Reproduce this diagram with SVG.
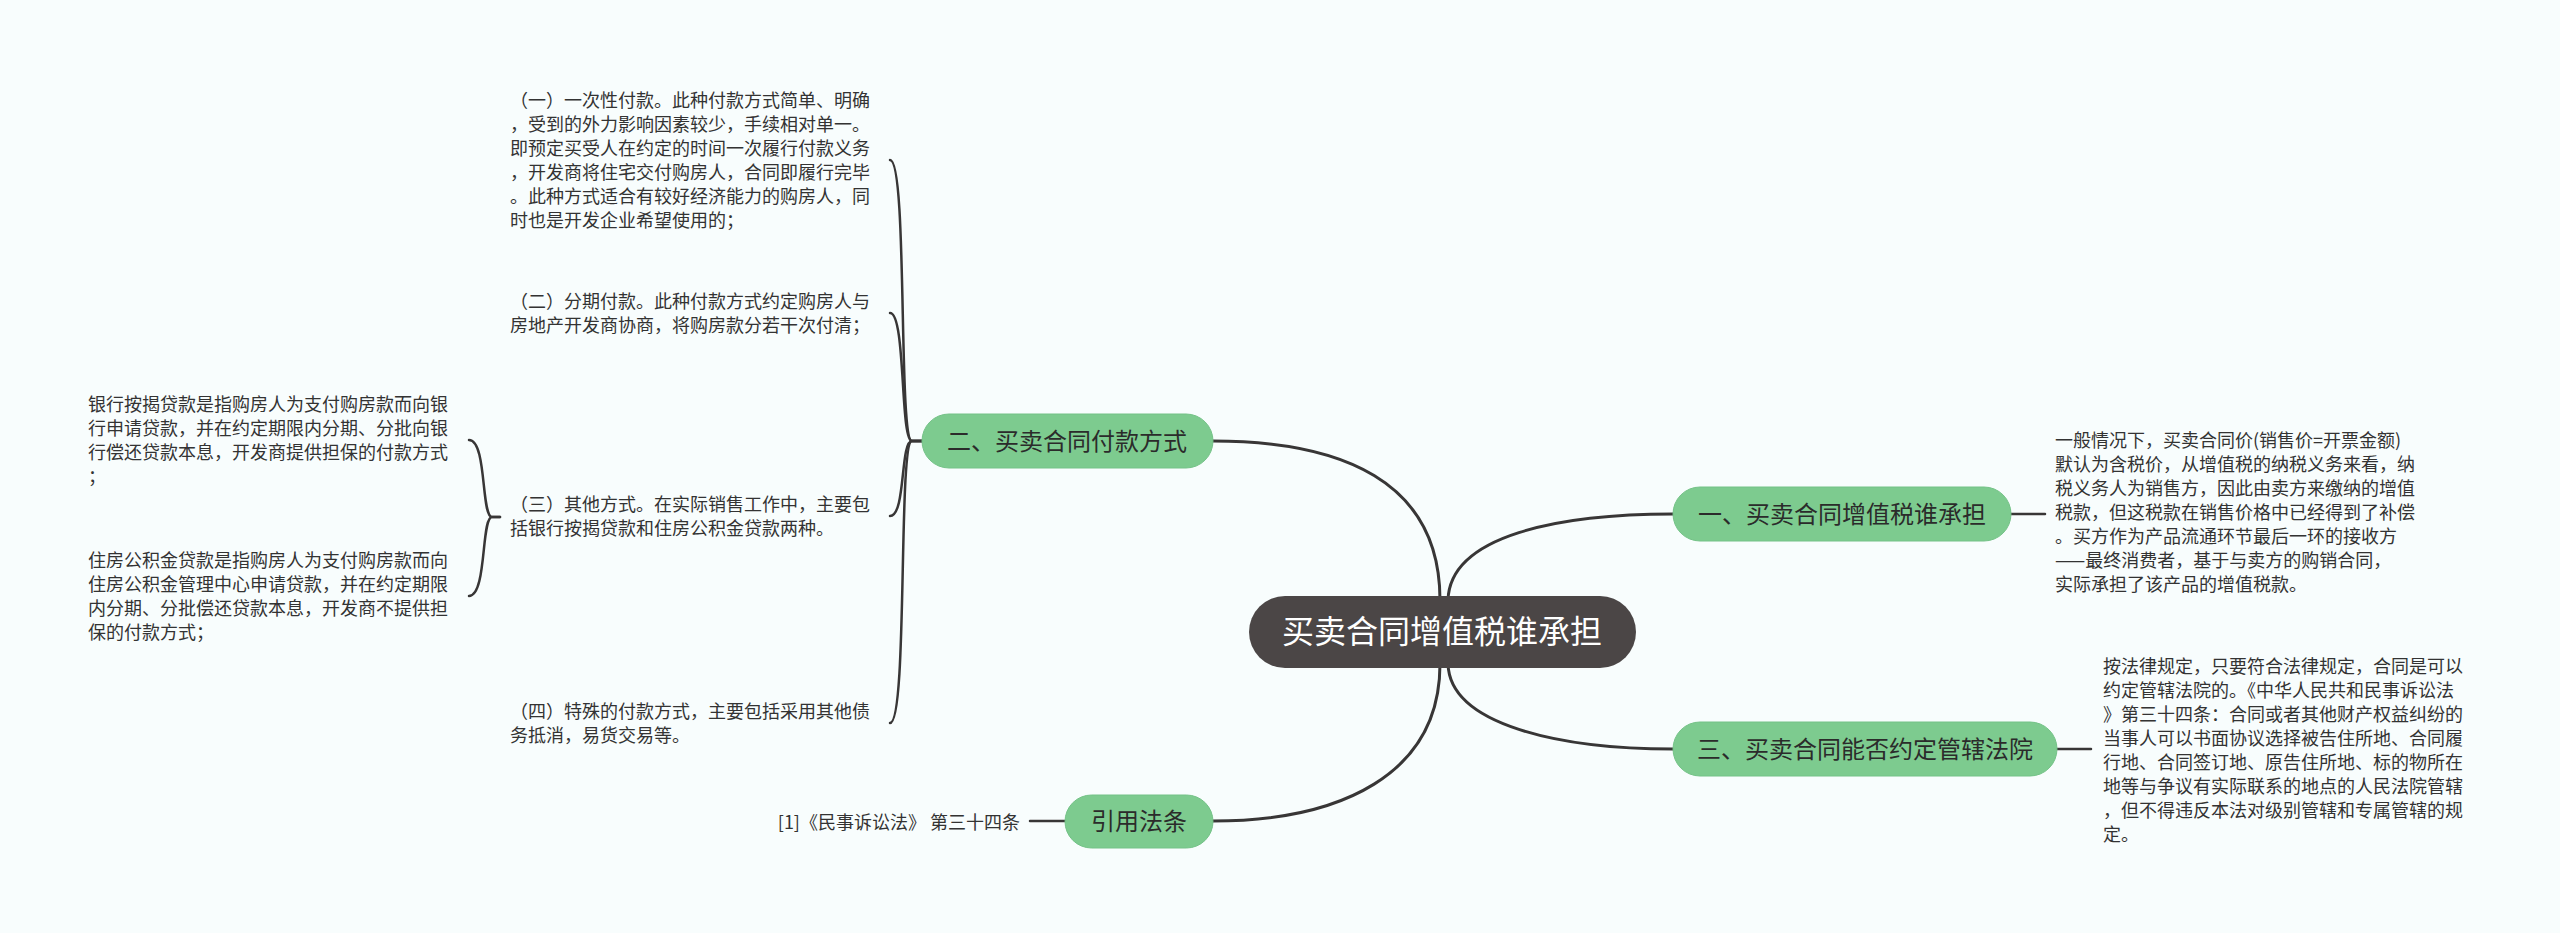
<svg xmlns="http://www.w3.org/2000/svg" width="2560" height="933" viewBox="0 0 2560 933">
<style>
.bg{fill:#f8fdfd}
.c{fill:none;stroke:#383636;stroke-width:3;stroke-linecap:round}
.c2{fill:none;stroke:#383636;stroke-width:2.5;stroke-linecap:round}
.n1{fill:#7dcb8f;stroke:#74c287;stroke-width:1}
.root{fill:#4b4646}
.t1{font-family:"Noto Sans CJK SC","Noto Sans",sans-serif;font-size:24px;fill:#2b2b2b;text-anchor:middle}
.t0{font-family:"Noto Sans CJK SC","Noto Sans",sans-serif;font-size:32px;fill:#ffffff;text-anchor:middle}
.lf{font-family:"Noto Sans CJK SC","Noto Sans",sans-serif;font-size:18px;fill:#333333}
</style>
<rect class="bg" x="0" y="0" width="2560" height="933"/>
<g id="connectors">
<path class="c" d="M1440 600 C1440 480 1340 441 1213 441"/>
<path class="c" d="M1448 600 C1450 535 1560 514 1673 514"/>
<path class="c" d="M1448 664 C1450 725 1560 749 1673 749"/>
<path class="c" d="M1440 664 C1440 775 1340 821 1213 821"/>
<path class="c2" d="M922 441 L912 441 C898 441 908 160 890 160"/>
<path class="c2" d="M922 441 L912 441 C900 441 906 313 890 313"/>
<path class="c2" d="M922 441 L912 441 C900 441 906 516 890 516"/>
<path class="c2" d="M922 441 L912 441 C898 441 908 723 890 723"/>
<path class="c2" d="M500 517 L492 517 C481 517 487 440 469 440"/>
<path class="c2" d="M500 517 L492 517 C481 517 487 596 469 596"/>
<path class="c2" d="M2011 514 L2045 514"/>
<path class="c2" d="M2057 749 L2091 749"/>
<path class="c2" d="M1065 821 L1030 821"/>
</g>
<g id="root">
<rect class="root" x="1249" y="596" width="387" height="72" rx="36"/>
<text class="t0" x="1442" y="643">买卖合同增值税谁承担</text>
</g>
<g id="n-payment">
<rect class="n1" x="922" y="414" width="291" height="54" rx="27"/>
<text class="t1" x="1067" y="449.5">二、买卖合同付款方式</text>
</g>
<g id="n-who">
<rect class="n1" x="1673" y="487" width="338" height="54" rx="27"/>
<text class="t1" x="1842" y="522.5">一、买卖合同增值税谁承担</text>
</g>
<g id="n-court">
<rect class="n1" x="1673" y="722" width="384" height="54" rx="27"/>
<text class="t1" x="1865" y="757.5">三、买卖合同能否约定管辖法院</text>
</g>
<g id="n-law">
<rect class="n1" x="1065" y="795" width="148" height="53" rx="26.5"/>
<text class="t1" x="1139" y="830">引用法条</text>
</g>
<g id="leaf-1">
<text class="lf" x="510"><tspan x="510" y="107">（一）一次性付款。此种付款方式简单、明确</tspan><tspan x="510" y="131">，受到的外力影响因素较少，手续相对单一。</tspan><tspan x="510" y="155">即预定买受人在约定的时间一次履行付款义务</tspan><tspan x="510" y="179">，开发商将住宅交付购房人，合同即履行完毕</tspan><tspan x="510" y="203">。此种方式适合有较好经济能力的购房人，同</tspan><tspan x="510" y="227">时也是开发企业希望使用的；</tspan></text>
</g>
<g id="leaf-2">
<text class="lf" x="510"><tspan x="510" y="308">（二）分期付款。此种付款方式约定购房人与</tspan><tspan x="510" y="332">房地产开发商协商，将购房款分若干次付清；</tspan></text>
</g>
<g id="leaf-3">
<text class="lf" x="510"><tspan x="510" y="511">（三）其他方式。在实际销售工作中，主要包</tspan><tspan x="510" y="535">括银行按揭贷款和住房公积金贷款两种。</tspan></text>
</g>
<g id="leaf-4">
<text class="lf" x="510"><tspan x="510" y="718">（四）特殊的付款方式，主要包括采用其他债</tspan><tspan x="510" y="742">务抵消，易货交易等。</tspan></text>
</g>
<g id="leaf-bank">
<text class="lf" x="88"><tspan x="88" y="411">银行按揭贷款是指购房人为支付购房款而向银</tspan><tspan x="88" y="435">行申请贷款，并在约定期限内分期、分批向银</tspan><tspan x="88" y="459">行偿还贷款本息，开发商提供担保的付款方式</tspan><tspan x="88" y="483">；</tspan></text>
</g>
<g id="leaf-fund">
<text class="lf" x="88"><tspan x="88" y="567">住房公积金贷款是指购房人为支付购房款而向</tspan><tspan x="88" y="591">住房公积金管理中心申请贷款，并在约定期限</tspan><tspan x="88" y="615">内分期、分批偿还贷款本息，开发商不提供担</tspan><tspan x="88" y="639">保的付款方式；</tspan></text>
</g>
<g id="leaf-vat">
<text class="lf" x="2055"><tspan x="2055" y="447">一般情况下，买卖合同价(销售价=开票金额)</tspan><tspan x="2055" y="471">默认为含税价，从增值税的纳税义务来看，纳</tspan><tspan x="2055" y="495">税义务人为销售方，因此由卖方来缴纳的增值</tspan><tspan x="2055" y="519">税款，但这税款在销售价格中已经得到了补偿</tspan><tspan x="2055" y="543">。买方作为产品流通环节最后一环的接收方</tspan><tspan x="2055" y="567">——最终消费者，基于与卖方的购销合同，</tspan><tspan x="2055" y="591">实际承担了该产品的增值税款。</tspan></text>
</g>
<g id="leaf-court">
<text class="lf" x="2103"><tspan x="2103" y="673">按法律规定，只要符合法律规定，合同是可以</tspan><tspan x="2103" y="697">约定管辖法院的。《中华人民共和民事诉讼法</tspan><tspan x="2103" y="721">》第三十四条：合同或者其他财产权益纠纷的</tspan><tspan x="2103" y="745">当事人可以书面协议选择被告住所地、合同履</tspan><tspan x="2103" y="769">行地、合同签订地、原告住所地、标的物所在</tspan><tspan x="2103" y="793">地等与争议有实际联系的地点的人民法院管辖</tspan><tspan x="2103" y="817">，但不得违反本法对级别管辖和专属管辖的规</tspan><tspan x="2103" y="841">定。</tspan></text>
</g>
<g id="leaf-cite">
<text class="lf" x="1020" y="829" text-anchor="end">[1]《民事诉讼法》 第三十四条</text>
</g>
</svg>
